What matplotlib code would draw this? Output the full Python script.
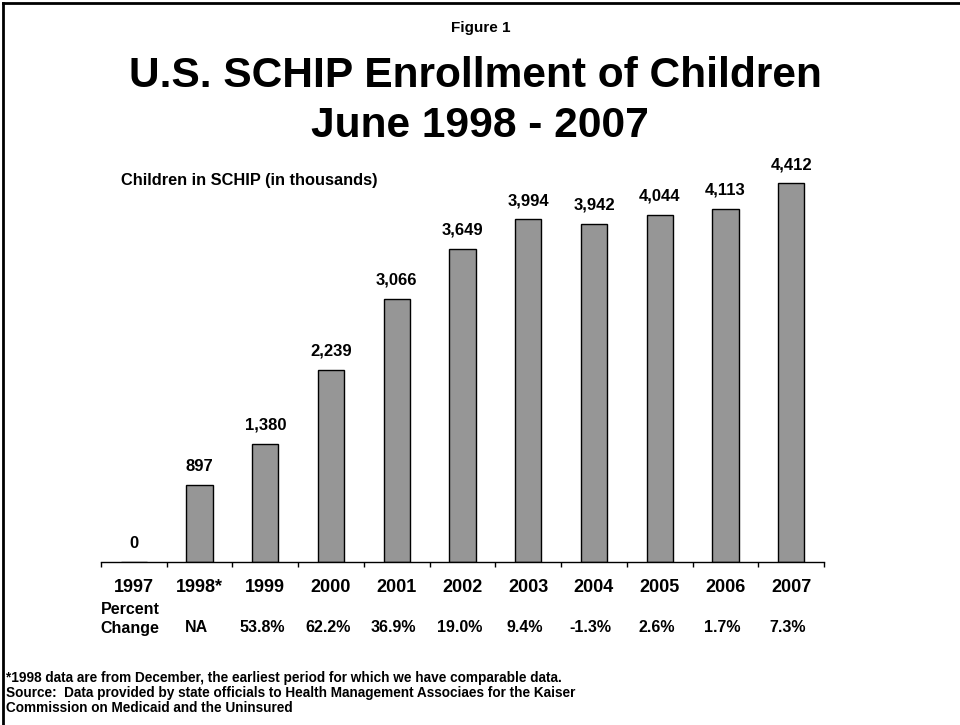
import matplotlib.pyplot as plt
from matplotlib.lines import Line2D

years = ['1997', '1998*', '1999', '2000', '2001', '2002', '2003', '2004', '2005', '2006', '2007']
enrollment = [0, 897, 1380, 2239, 3066, 3649, 3994, 3942, 4044, 4113, 4412]
pct_change = ['', 'NA', '53.8%', '62.2%', '36.9%', '19.0%', '9.4%', '-1.3%', '2.6%', '1.7%', '7.3%']
value_labels = ['0', '897', '1,380', '2,239', '3,066', '3,649', '3,994', '3,942', '4,044', '4,113', '4,412']

FONT = ['Liberation Sans Narrow', 'Liberation Sans', 'DejaVu Sans']
plt.rcParams['font.family'] = FONT

W, H = 960, 725
fig = plt.figure(figsize=(W / 100, H / 100), dpi=100)

# frame round the picture (left and top edges)
fig.add_artist(Line2D([2.5 / W, 2.5 / W], [0, 1 - 2.5 / H], color='black', lw=2))
fig.add_artist(Line2D([2.5 / W, 1], [1 - 2.5 / H, 1 - 2.5 / H], color='black', lw=2))

def fy(py):
    return 1 - py / H

fig.text(481 / W, fy(28), 'Figure 1', ha='center', va='center', fontsize=11, fontweight='bold')
fig.text(475 / W, fy(76), 'U.S. SCHIP Enrollment of Children', ha='center', va='center',
         fontsize=30.6, fontweight='bold')
fig.text(480 / W, fy(126), 'June 1998 - 2007', ha='center', va='center',
         fontsize=30.6, fontweight='bold')
fig.text(121 / W, fy(180), 'Children in SCHIP (in thousands)', ha='left', va='center',
         fontsize=11.8, fontweight='bold')

ax = fig.add_axes([101 / W, fy(562), (824 - 101) / W, 429 / H])
x = range(len(years))
ax.bar(x, enrollment, width=0.40, color='#969696', edgecolor='black', linewidth=1, zorder=2)
ax.set_xlim(-0.5, len(years) - 0.5)
ax.set_ylim(0, 5000)
for s in ['top', 'right', 'left']:
    ax.spines[s].set_visible(False)
ax.spines['bottom'].set_linewidth(1)
ax.set_yticks([])
ax.set_xticks([i - 0.5 for i in range(len(years) + 1)])
ax.set_xticklabels([])
ax.tick_params(axis='x', direction='out', length=3.5, width=1)

for i, (v, lab) in enumerate(zip(enrollment, value_labels)):
    ax.annotate(lab, (i, v), xytext=(0, 8), textcoords='offset points', ha='center', va='bottom',
                fontsize=12, fontweight='bold')

tr = ax.get_xaxis_transform()
for i, (yr, pc) in enumerate(zip(years, pct_change)):
    ax.text(i, -25 / 429, yr, transform=tr, ha='center', va='center', fontsize=13, fontweight='bold')
    if pc:
        ax.text(i - 0.05, -65 / 429, pc, transform=tr, ha='center', va='center', fontsize=11.5,
                fontweight='bold')
ax.text(-0.06, -48 / 429, 'Percent', transform=tr, ha='center', va='center', fontsize=11.5, fontweight='bold')
ax.text(-0.06, -66 / 429, 'Change', transform=tr, ha='center', va='center', fontsize=11.5, fontweight='bold')

notes = ['*1998 data are from December, the earliest period for which we have comparable data.',
         'Source:  Data provided by state officials to Health Management Associaes for the Kaiser',
         'Commission on Medicaid and the Uninsured']
for k, line in enumerate(notes):
    fig.text(6 / W, fy(678 + 15 * k), line, ha='left', va='center', fontsize=9.8, fontweight='bold')

fig.savefig('out.png', dpi=100)
